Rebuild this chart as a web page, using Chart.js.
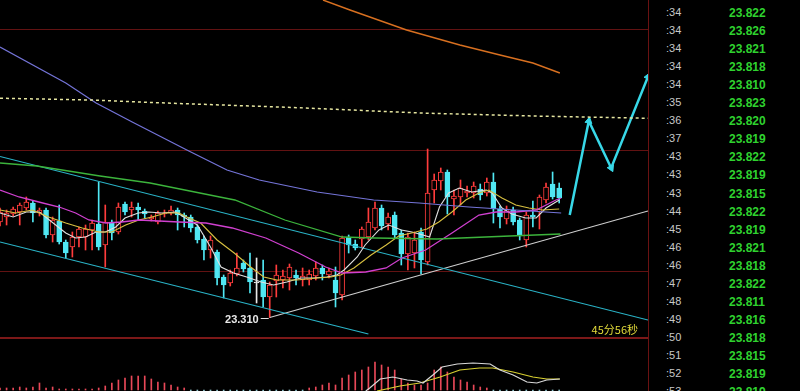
<!DOCTYPE html>
<html>
<head>
<meta charset="utf-8">
<script src="https://cdn.jsdelivr.net/npm/chart.js@4.4.1/dist/chart.umd.min.js"></script>
<style>
  html, body { margin: 0; padding: 0; background: #000; overflow: hidden; }
  #wrap { position: relative; width: 800px; height: 391px; background: #000; }
  #mainBox { position: absolute; left: 0; top: 0; width: 648px; height: 337px; }
  #sep { position: absolute; left: 0; top: 337px; width: 648px; height: 2px; background: #7c1818; }
  #macdBox { position: absolute; left: 0; top: 339px; width: 648px; height: 52px; }
  #vline { position: absolute; left: 648px; top: 0; width: 1px; height: 391px; background: #6a1212; }
  .t { position: absolute; left: 666px; height: 18px; line-height: 18px; font: 11px "Liberation Sans", Arial, sans-serif; color: #c8c8c8; }
  .p { position: absolute; left: 729px; height: 18px; line-height: 18px; font: bold 12px "Liberation Sans", Arial, sans-serif; color: #2fd22f; }
</style>
</head>
<body>
<div id="wrap">
  <div id="mainBox"><canvas id="mainChart" width="648" height="337"></canvas></div>
  <div id="sep"></div>
  <div id="macdBox"><canvas id="macdChart" width="648" height="52"></canvas></div>
  <div id="vline"></div>
  <div id="ticks"></div>
</div>
<script>
// candles (index 0..85)
const opens = [23.692,23.712,23.724,23.732,23.748,23.768,23.728,23.74,23.64,23.696,
  23.612,23.592,23.632,23.632,23.66,23.684,23.60,23.692,23.652,23.764,
  23.74,23.752,23.736,23.704,23.692,23.724,23.728,23.74,23.72,23.712,
  23.672,23.624,23.58,23.572,23.472,23.448,23.484,23.528,23.508,23.448,
  23.46,23.392,23.456,23.46,23.468,23.48,23.46,23.46,23.476,23.508,
  23.48,23.46,23.40,23.632,23.604,23.624,23.632,23.668,23.748,23.684,
  23.72,23.648,23.564,23.568,23.652,23.532,23.82,23.856,23.892,23.784,
  23.792,23.808,23.808,23.824,23.808,23.852,23.744,23.704,23.74,23.70,
  23.62,23.72,23.732,23.78,23.844,23.828];
const highs = [23.748,23.74,23.752,23.768,23.792,23.776,23.748,23.748,23.712,23.76,
  23.62,23.652,23.672,23.68,23.70,23.852,23.76,23.70,23.768,23.772,
  23.772,23.768,23.744,23.72,23.736,23.74,23.756,23.748,23.728,23.72,
  23.68,23.636,23.636,23.58,23.48,23.50,23.568,23.54,23.568,23.548,
  23.54,23.452,23.52,23.50,23.524,23.50,23.508,23.50,23.532,23.52,
  23.508,23.512,23.636,23.64,23.62,23.672,23.748,23.772,23.76,23.728,
  23.732,23.66,23.648,23.652,23.668,23.984,23.884,23.908,23.90,23.82,
  23.86,23.836,23.852,23.844,23.868,23.888,23.756,23.756,23.752,23.708,
  23.732,23.776,23.80,23.848,23.892,23.848];
const lows = [23.676,23.68,23.716,23.68,23.74,23.692,23.716,23.628,23.612,23.604,
  23.548,23.552,23.592,23.58,23.58,23.58,23.512,23.62,23.644,23.72,
  23.712,23.70,23.708,23.696,23.684,23.712,23.72,23.66,23.672,23.652,
  23.608,23.54,23.548,23.44,23.388,23.436,23.476,23.492,23.408,23.368,
  23.352,23.31,23.392,23.428,23.42,23.44,23.436,23.44,23.46,23.46,
  23.468,23.352,23.38,23.568,23.58,23.588,23.62,23.66,23.66,23.66,
  23.628,23.52,23.50,23.508,23.484,23.52,23.768,23.82,23.724,23.72,
  23.76,23.792,23.788,23.78,23.796,23.688,23.668,23.684,23.68,23.62,
  23.592,23.672,23.664,23.768,23.784,23.768];
const closes = [23.732,23.728,23.744,23.76,23.772,23.728,23.74,23.64,23.70,23.612,
  23.568,23.632,23.664,23.664,23.688,23.592,23.692,23.648,23.752,23.732,
  23.752,23.74,23.724,23.712,23.728,23.728,23.74,23.72,23.712,23.668,
  23.62,23.58,23.62,23.468,23.44,23.488,23.508,23.504,23.452,23.448,
  23.392,23.44,23.48,23.476,23.512,23.468,23.476,23.484,23.508,23.484,
  23.496,23.408,23.628,23.60,23.588,23.664,23.692,23.748,23.676,23.712,
  23.64,23.564,23.632,23.62,23.54,23.808,23.86,23.892,23.792,23.796,
  23.828,23.816,23.836,23.80,23.852,23.744,23.712,23.744,23.692,23.636,
  23.72,23.712,23.792,23.832,23.792,23.788];

// moving averages: [candle index, price]
const ma5 = [[0,23.728],[2,23.712],[4,23.732],[6,23.732],[7.5,23.70],[10,23.648],[11.5,23.628],[13,23.632],[14.6,23.652],[16,23.652],
  [17.6,23.672],[19,23.708],[21,23.728],[22.6,23.732],[24.6,23.728],[26.7,23.732],[28.7,23.70],[30,23.68],[32,23.592],[33.6,23.512],
  [35.5,23.488],[37.5,23.472],[39.7,23.452],[41.6,23.44],[43.6,23.452],[45.7,23.468],[47.7,23.468],[49.7,23.472],[51.2,23.48],[52.3,23.50],
  [54.3,23.552],[55.5,23.60],[57.6,23.66],[59.1,23.68],[61,23.66],[62.6,23.652],[64.3,23.64],[65.3,23.632],[66.8,23.752],[68.2,23.808],
  [69.8,23.828],[71.7,23.812],[73.9,23.82],[74.8,23.808],[76.3,23.748],[77.8,23.724],[79.9,23.708],[81.5,23.708],[83,23.748],[85,23.78]];
const ma10 = [[0,23.74],[2.4,23.728],[4.9,23.74],[7.4,23.712],[10,23.688],[12.5,23.668],[15,23.652],[17,23.652],[19.1,23.68],[21.1,23.70],
  [23.1,23.712],[25.2,23.728],[27.2,23.728],[28.7,23.708],[30.5,23.688],[33,23.62],[35.6,23.568],[38.1,23.512],[40.1,23.472],[42.1,23.46],
  [45.1,23.46],[48.2,23.468],[50.3,23.472],[51.8,23.48],[53.8,23.508],[56.4,23.56],[58.7,23.60],[60.6,23.636],[63.2,23.652],[64.9,23.664],
  [66.7,23.692],[68.7,23.732],[70.8,23.78],[72.8,23.808],[74.3,23.82],[76.3,23.788],[78.4,23.76],[80.4,23.748],[82.4,23.74],[85,23.744]];
const ma20 = [[0,23.82],[2.9,23.792],[5.9,23.772],[9,23.752],[11.5,23.728],[13.5,23.70],[16.1,23.688],[18.5,23.692],[21.1,23.70],[24.2,23.696],
  [27.2,23.692],[31.3,23.688],[35.3,23.668],[40.4,23.628],[45.4,23.568],[49.5,23.512],[52,23.488],[55.6,23.492],[58.7,23.508],[61.1,23.548],
  [64.7,23.58],[68.7,23.648],[72.8,23.72],[75.4,23.732],[78.4,23.732],[81.5,23.74],[84.5,23.78],[85.3,23.788]];
const ma60 = [[0,23.928],[5.6,23.916],[15.2,23.876],[22.8,23.848],[28.1,23.82],[33.4,23.792],[35.7,23.78],[43.3,23.70],[52,23.632],[57,23.628],
  [66.4,23.624],[77.5,23.636],[85.2,23.644]];
const ma120 = [[0,24.392],[10,24.248],[14.6,24.168],[20.1,24.092],[28.4,23.98],[34.5,23.90],[39.4,23.86],[48.2,23.812],[56.8,23.78],[63.7,23.768],
  [71.3,23.752],[85.3,23.728]];
const ma250 = [[49.1,24.58],[53.2,24.54],[61.8,24.46],[69.9,24.40],[76,24.36],[81,24.328],[85.1,24.288]];
const longAvg = [[0,24.187],[13.7,24.18],[25.1,24.168],[45.6,24.149],[63.8,24.128],[81,24.116],[98.5,24.107]];

// drawn trend lines and projection
const channelTop = [[0,23.954],[98.5,23.30]];
const channelBottom = [[0,23.612],[56,23.244]];
const support = [[41,23.31],[98.5,23.736]];
const projection = [[86.6,23.72],[89.5,24.096],[92.9,23.908],[98.5,24.273]];

const lowIndex = 41, lowPrice = 23.31;
const countdown = '45分56秒';
const gridPrices = [24.462, 23.976, 23.492];

// MACD panel
const macdHist = [0.002,0.002,0.002,0.003,0.002,0.003,0.007,0.002,0.003,0.001,
  0.001,0.001,0.001,0.001,0.001,0.002,0.004,0.007,0.010,0.012,
  0.014,0.014,0.014,0.011,0.008,0.007,0.005,0.003,0.002,-0.004,
  -0.008,-0.012,-0.015,-0.018,-0.02,-0.02,-0.018,-0.016,-0.014,-0.012,
  -0.01,-0.009,-0.008,-0.006,-0.005,-0.004,-0.002,0.002,0.003,0.005,
  0.007,0.005,0.012,0.015,0.018,0.020,0.023,0.028,0.025,0.023,
  0.020,0.011,0.007,0.005,0.005,0.007,0.020,0.023,0.018,0.013,
  0.010,0.008,0.005,0.003,0.002,-0.002,-0.004,-0.005,-0.006,-0.008,
  -0.008,-0.006,-0.005,-0.004,-0.003,-0.003];
const dif = [[55.6,-0.001],[56.2,0.002],[57.8,0.011],[58.8,0.012],[59.7,0.013],[61.9,0.010],[63.4,0.009],[64.3,0.007],[65.8,0.015],[67.2,0.023],
  [69.5,0.026],[71.9,0.027],[74.5,0.026],[76,0.020],[78,0.015],[80.1,0.008],[81.6,0.007],[83.1,0.010],[85.1,0.011]];
const dea = [[57.3,-0.001],[60.8,0.004],[63.8,0.007],[66.9,0.013],[69.9,0.020],[72.9,0.022],[74.9,0.022],[78,0.018],[81,0.013],[83.1,0.011],[85.1,0.011]];

// tick list on the right
const tickMinutes = [34,34,34,34,34,35,36,37,43,43,43,44,45,46,46,47,48,49,50,51,52,53];
const tickPrices = [23.822,23.826,23.821,23.818,23.810,23.823,23.820,23.819,23.822,23.819,23.815,
  23.822,23.819,23.821,23.818,23.822,23.811,23.816,23.818,23.815,23.819,23.819];

const upColor = '#ff3c3c', downColor = '#50e8f4', flatColor = '#e8e8e8';
const xMin = 0, xMax = 98.5;

const candleColor = opens.map((o, i) => closes[i] > o ? upColor : (closes[i] < o ? downColor : flatColor));
const bodyFill = opens.map((o, i) => closes[i] > o ? '#000000' : candleColor[i]);

function lineSet(points, color, width, extra) {
  return Object.assign({
    type: 'line',
    data: points.map(p => ({ x: p[0], y: p[1] })),
    borderColor: color,
    borderWidth: width,
    pointRadius: 0,
    tension: 0,
    fill: false,
    order: 0
  }, extra || {});
}

const labelPlugin = {
  id: 'labelPlugin',
  afterDatasetsDraw(chart) {
    const { ctx, chartArea } = chart;
    const x = chart.scales.x, y = chart.scales.y;
    const px = x.getPixelForValue(lowIndex);
    const py = Math.round(y.getPixelForValue(lowPrice)) + 0.5;
    ctx.save();
    ctx.strokeStyle = '#e0e0e0';
    ctx.lineWidth = 1;
    ctx.beginPath();
    ctx.moveTo(px - 9, py);
    ctx.lineTo(px - 1, py);
    ctx.stroke();
    ctx.font = 'bold 11px "Liberation Sans", Arial, sans-serif';
    ctx.fillStyle = '#e8e8e8';
    ctx.textAlign = 'right';
    ctx.textBaseline = 'middle';
    ctx.fillText(lowPrice.toFixed(3), px - 11, py + 1);
    ctx.font = '11px "Noto Sans CJK SC", sans-serif';
    ctx.fillStyle = '#e4dc3a';
    ctx.fillText(countdown, chartArea.right - 10, chartArea.bottom - 7);
    ctx.restore();
  }
};

new Chart(document.getElementById('mainChart'), {
  type: 'bar',
  data: {
    datasets: [
      lineSet(longAvg, '#e6e6a0', 1.5, { borderDash: [3, 3] }),
      lineSet(ma250, '#d87020', 1.4),
      lineSet(ma120, '#7474d8', 1.2),
      lineSet(ma60, '#3cb43c', 1.3),
      lineSet(ma20, '#d040d0', 1.3),
      lineSet(ma10, '#d8c040', 1.1),
      lineSet(ma5, '#e0e0e0', 1.1),
      lineSet(channelTop, '#2ab4c8', 1.2),
      lineSet(channelBottom, '#2ab4c8', 1.2),
      lineSet(support, '#d0d0d0', 1.2),
      lineSet(projection, '#38d8e8', 2.5, {
        pointStyle: 'triangle',
        pointRadius: [0, 4, 4, 4],
        pointRotation: [0, 11, 155, 22],
        pointBackgroundColor: '#38d8e8',
        pointBorderColor: '#38d8e8',
        pointBorderWidth: 1
      }),
      {
        type: 'bar',
        data: opens.map((o, i) => ({ x: i, y: [o, closes[i]] })),
        backgroundColor: bodyFill,
        borderColor: candleColor,
        borderWidth: 1,
        borderSkipped: false,
        barThickness: 5,
        minBarLength: 1,
        grouped: false,
        order: 1
      },
      {
        type: 'bar',
        data: lows.map((l, i) => ({ x: i, y: [l, highs[i]] })),
        backgroundColor: candleColor,
        borderWidth: 0,
        barThickness: 1,
        grouped: false,
        order: 2
      }
    ]
  },
  options: {
    responsive: false,
    animation: false,
    devicePixelRatio: 1,
    layout: { padding: 0, autoPadding: false },
    plugins: { legend: { display: false }, tooltip: { enabled: false } },
    scales: {
      x: { type: 'linear', min: xMin, max: xMax, offset: false, display: false },
      y: {
        type: 'linear', min: 23.232, max: 24.58,
        afterBuildTicks: s => { s.ticks = gridPrices.map(v => ({ value: v })); },
        ticks: { display: false },
        border: { display: false },
        grid: { color: '#621212', lineWidth: 1, drawTicks: false }
      }
    }
  },
  plugins: [labelPlugin]
});

new Chart(document.getElementById('macdChart'), {
  type: 'bar',
  data: {
    datasets: [
      lineSet(dif, '#d8d8d8', 1.2),
      lineSet(dea, '#d8d030', 1.2),
      {
        type: 'bar',
        data: macdHist.map((v, i) => ({ x: i, y: v })),
        backgroundColor: macdHist.map(v => v >= 0 ? '#e84858' : '#8fc4cc'),
        borderWidth: 0,
        barThickness: 1,
        grouped: false,
        order: 1
      }
    ]
  },
  options: {
    responsive: false,
    animation: false,
    devicePixelRatio: 1,
    layout: { padding: 0, autoPadding: false },
    plugins: { legend: { display: false }, tooltip: { enabled: false } },
    scales: {
      x: { type: 'linear', min: xMin, max: xMax, offset: false, display: false },
      y: { type: 'linear', min: -0.001, max: 0.051, display: false }
    }
  }
});

const ticksBox = document.getElementById('ticks');
tickMinutes.forEach((m, i) => {
  const top = (6 + 18.05 * i) + 'px';
  const t = document.createElement('div');
  t.className = 't';
  t.style.top = top;
  t.textContent = ':' + m;
  const p = document.createElement('div');
  p.className = 'p';
  p.style.top = top;
  p.textContent = tickPrices[i].toFixed(3);
  ticksBox.appendChild(t);
  ticksBox.appendChild(p);
});
</script>
</body>
</html>
